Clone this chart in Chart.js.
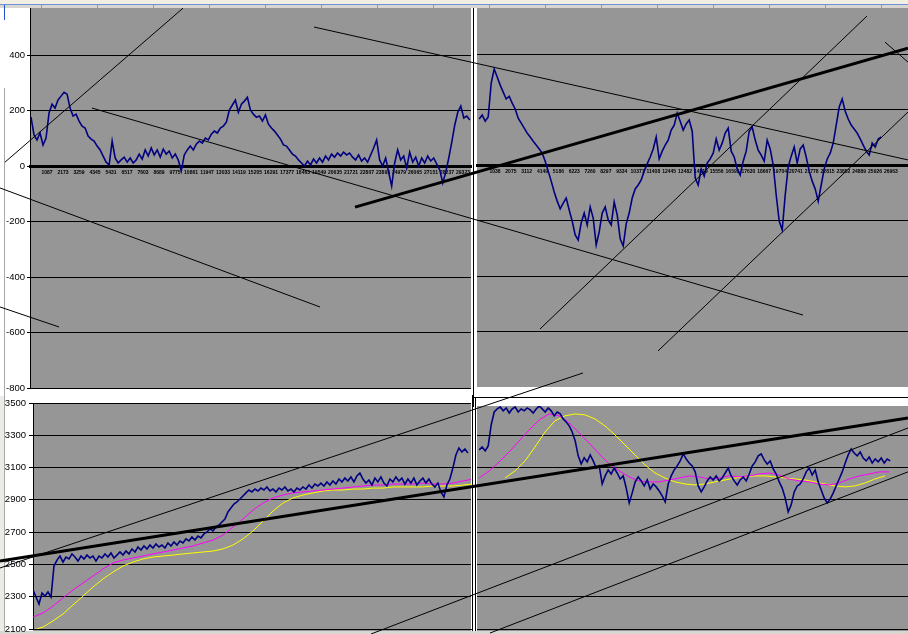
<!DOCTYPE html>
<html><head><meta charset="utf-8">
<script src="https://cdn.jsdelivr.net/npm/chart.js@4.4.1/dist/chart.umd.min.js"></script>
<style>
html,body{margin:0;padding:0;background:#fff;}
#wrap{position:relative;width:908px;height:634px;overflow:hidden;background:#fff;}
canvas{position:absolute;left:0;top:0;}
.f{position:absolute;}
</style></head><body>
<div id="wrap">
 <div class="f" style="left:0;top:0;width:908px;height:4px;background:#f1efe2"></div>
 <div class="f" style="left:0;top:4px;width:908px;height:1px;background:#6f8fd8"></div>
 <div class="f" style="left:0;top:5px;width:908px;height:3px;background:#d8d6d0;background-image:repeating-linear-gradient(to right,transparent 0,transparent 41px,#9a9a9a 41px,#9a9a9a 42px,transparent 42px,transparent 56px)"></div>
 <div class="f" style="left:4px;top:5px;width:1px;height:15px;background:#2050c0"></div>
 <div class="f" style="left:0;top:396px;width:4px;height:238px;background:#ecebe6"></div>
 <div class="f" style="left:4px;top:88px;width:1px;height:546px;background:#a8a8a8"></div>
 <div class="f" style="left:473px;top:8px;width:1px;height:390px;background:#000"></div>
 <div class="f" style="left:472px;top:395px;width:2px;height:12px;background:#000"></div>
 <div class="f" style="left:472px;top:405px;width:1px;height:229px;background:#000"></div>
 <div class="f" style="left:475px;top:397px;width:1px;height:237px;background:#000"></div>
 <div class="f" style="left:474px;top:397px;width:434px;height:1px;background:#000"></div>
 <div class="f" style="left:0;top:631px;width:908px;height:3px;background:#d8d6d0"></div>
 <canvas id="cTR" width="908" height="634"></canvas>
 <canvas id="cBR" width="908" height="634"></canvas>
 <canvas id="cTL" width="908" height="634"></canvas>
 <canvas id="cBL" width="908" height="634"></canvas>
</div>
<script>
// ---------- DATA ----------
// Top-left oscillator (blue), one value every 204 rows from row 0
const TL_VALUES = [176,112,94,119,76,101,191,223,209,238,252,266,259,209,180,187,162,144,137,108,97,90,72,58,36,14,4,90,29,11,22,32,14,29,11,22,43,25,58,36,65,40,58,32,61,43,54,29,43,22,-18,40,58,72,58,79,90,83,101,94,115,126,119,137,144,158,202,220,238,194,223,234,248,202,187,176,180,162,184,151,137,126,112,97,76,72,58,43,36,22,11,0,18,4,25,11,29,14,36,22,43,32,47,36,50,40,47,32,22,40,18,29,14,40,65,94,22,0,29,-22,-72,11,58,22,36,-7,50,14,32,0,29,11,36,18,29,7,-14,-61,-22,29,86,148,194,216,173,180,166];
// Top-right oscillator (blue), one value every 196.5 rows from row 0
const TR_VALUES = [166,180,158,173,295,346,317,288,263,238,248,223,202,169,151,133,115,101,86,72,58,43,14,-22,-58,-97,-130,-158,-137,-119,-162,-202,-252,-270,-209,-173,-216,-151,-191,-288,-241,-173,-151,-198,-216,-133,-180,-266,-292,-212,-173,-119,-86,-72,-54,-22,4,29,58,101,22,50,72,90,126,144,187,158,126,148,162,122,-47,-72,-14,-40,7,22,43,94,54,79,115,133,50,29,-14,-36,14,50,122,137,90,54,36,14,90,58,0,-108,-202,-234,-108,-7,32,65,7,58,72,29,-22,-58,-86,-130,-72,-14,22,43,79,144,209,238,194,166,144,130,115,94,72,50,36,79,65,94,101];
// Bottom-left price (blue), every 204.5 rows
const BL_VALUES = [2342,2298,2255,2323,2304,2329,2298,2490,2527,2552,2515,2546,2534,2565,2546,2521,2552,2534,2558,2540,2552,2521,2552,2540,2565,2546,2571,2540,2558,2577,2558,2583,2565,2596,2577,2608,2589,2614,2596,2620,2602,2627,2608,2620,2602,2633,2614,2639,2620,2645,2633,2658,2645,2670,2651,2676,2664,2689,2701,2720,2707,2732,2744,2763,2781,2825,2850,2874,2887,2905,2924,2943,2961,2949,2967,2955,2973,2961,2980,2955,2967,2949,2973,2961,2980,2955,2967,2949,2973,2961,2980,2967,2992,2973,2998,2986,3004,2986,3011,2992,3017,2998,3029,3011,3035,3017,3042,3011,3048,3066,3029,3004,3023,2992,3035,3011,3042,3004,2986,3029,3011,3042,3017,3035,2998,3029,3004,3035,2992,3017,3035,3004,3029,2998,2980,3004,2949,2918,2992,3029,3097,3178,3221,3196,3215,3190];
// Bottom-left moving averages, every 682 rows
const BL_MA_FAST = [2174,2199,2242,2292,2342,2385,2428,2472,2509,2527,2540,2552,2565,2577,2589,2602,2614,2633,2651,2682,2732,2781,2837,2881,2912,2930,2943,2949,2955,2961,2967,2973,2980,2986,2992,2992,2998,2998,2998,3004,2998,2998,3004,3017,3029];
const BL_MA_SLOW = [2094,2112,2150,2193,2249,2304,2360,2410,2453,2490,2515,2534,2546,2552,2558,2565,2571,2577,2583,2596,2620,2658,2707,2769,2831,2881,2912,2930,2943,2955,2961,2961,2967,2967,2973,2973,2980,2980,2980,2980,2986,2986,2986,2992,2998];
// Bottom-right price (blue), every 196.5 rows
const BR_VALUES = [3209,3227,3203,3234,3364,3444,3463,3475,3451,3469,3438,3463,3475,3444,3463,3451,3469,3457,3438,3463,3481,3463,3444,3469,3451,3420,3444,3432,3401,3382,3358,3320,3265,3172,3122,3160,3135,3178,3141,3097,3110,2998,3048,3085,3060,3097,3066,3029,3048,2973,2881,2943,3011,3042,3017,2986,3023,2967,2998,2980,2955,2924,2887,2998,3048,3085,3110,3141,3184,3153,3128,3110,3073,2986,2949,2980,3017,3042,3023,3048,3017,3035,3066,3097,3048,3017,2992,3023,3042,3017,3060,3110,3135,3172,3184,3147,3122,3141,3091,3060,3011,2973,2911,2825,2869,2949,2986,2998,3029,3073,3097,3054,3085,3011,2961,2911,2881,2905,2943,2986,3029,3073,3128,3178,3215,3190,3172,3196,3159,3141,3165,3128,3153,3135,3159,3128,3153,3141];
// Bottom-right moving averages, every 655 rows (slow one starts at row 1690)
const BR_MA_FAST = [3035,3079,3135,3197,3265,3333,3395,3432,3420,3376,3314,3252,3184,3122,3079,3042,3017,3011,3011,3023,3035,3048,3042,3029,3035,3048,3042,3048,3060,3066,3054,3029,3017,3011,2998,2992,3004,3029,3048,3060,3073,3073];
const BR_MA_SLOW = [3035,3079,3141,3227,3320,3389,3420,3432,3426,3401,3358,3302,3240,3178,3116,3066,3035,3011,2998,2992,2998,3011,3023,3035,3042,3048,3048,3042,3035,3029,3023,3011,2998,2986,2980,2986,3004,3029,3048];
// Category tick labels (row numbers)
const TL_CAT_TICKS = [1087,2173,3259,4345,5431,6517,7603,8689,9775,10861,11947,13033,14119,15205,16291,17377,18463,19549,20635,21721,22807,23893,24979,26065,27151,28237,29323];
const TR_CAT_TICKS = [1038,2075,3112,4149,5186,6223,7260,8297,9334,10371,11408,12445,13482,14519,15556,16593,17630,18667,19704,20741,21778,22815,23852,24889,25926,26963];
// Value axis ticks
const TL_Y_TICKS = [-800,-600,-400,-200,0,200,400];
const TR_Y_TICKS = [-600,-400,-200,0,200,400];
const BL_Y_TICKS = [2100,2300,2500,2700,2900,3100,3300,3500];
const BR_Y_TICKS = [2100,2300,2500,2700,2900,3100,3300];
// Hand-drawn trend lines, in each panel's data units: [row1, value1, row2, value2]
const TL_TRENDS_THIN = [[-1765,14,10317,569],[4140,209,52400,-537],[-2104,-79,19616,-508],[-2104,-508,1901,-580],[19209,501,59526,22]];
const TL_TRENDS_THICK = [[21992,-148,59526,425]];
const TR_TRENDS_THIN = [[3982,-591,25401,537],[11711,-670,28086,191],[26580,443,28086,371]];
const BL_TRENDS_THIN = [[-2250,2478,37499,3686],[23045,2069,59658,3345]];
const BL_TRENDS_THICK = [[-2250,2521,59658,3407]];
const BR_TRENDS_THIN = [[707,2075,28086,3073]];

// ---------- RENDERING ----------
const W = 908, H = 634;
Chart.defaults.font.family = "'Liberation Sans', Arial, sans-serif";

const bgPlugin = {
  id: 'plotBg',
  beforeDraw(chart, args, opts) {
    const a = chart.chartArea, c = chart.ctx;
    c.save();
    c.fillStyle = '#969696';
    c.fillRect(a.left, a.top, a.right - a.left, a.bottom - a.top + (opts.extra || 0));
    c.restore();
  }
};

function series(vals, start, step) { return vals.map((v, i) => ({x: start + i * step, y: v})); }
function lineDs(points, color, width, order) {
  return {data: points, borderColor: color, borderWidth: width, pointRadius: 0, tension: 0, fill: false, order: order};
}
function trendDs(s, width) {
  return {data: [{x: s[0], y: s[1]}, {x: s[2], y: s[3]}], borderColor: '#000', borderWidth: width,
          pointRadius: 0, tension: 0, fill: false, clip: false, order: 0};
}

function midXAxis(min, max, ticks) {
  return {
    type: 'linear', position: {y: 0}, min: min, max: max,
    grid: {display: false, drawTicks: false},
    border: {display: true, color: '#000', width: 3},
    ticks: {autoSkip: false, maxRotation: 0, minRotation: 0, padding: 4, color: '#000',
            font: {size: 5, weight: 'bold'}, callback: v => String(v)},
    afterBuildTicks: s => { s.ticks = ticks.map(v => ({value: v})); },
    afterFit: s => { s.paddingLeft = 0; s.paddingRight = 0; s.height = 0; }
  };
}
function bottomXAxis(min, max) {
  return {
    type: 'linear', position: 'bottom', min: min, max: max,
    grid: {display: false, drawTicks: false},
    border: {display: true, color: '#000', width: 1},
    ticks: {display: false},
    afterFit: s => { s.paddingLeft = 0; s.paddingRight = 0; s.height = 0; }
  };
}
function yAxis(min, max, ticks, showLabels, width, tickLen, pad) {
  return {
    type: 'linear', position: 'left', min: min, max: max,
    grid: {color: '#000', lineWidth: 1, drawTicks: showLabels, tickLength: tickLen},
    border: {display: showLabels, color: '#000', width: 1},
    ticks: {display: showLabels, padding: pad, color: '#000', font: {size: 9.5}, callback: v => String(v)},
    afterBuildTicks: s => { s.ticks = ticks.map(v => ({value: v})); },
    afterFit: s => { s.width = width; s.paddingTop = 0; s.paddingBottom = 0; }
  };
}
function panel(id, area, xCfg, yCfg, datasets, extra) {
  return new Chart(document.getElementById(id), {
    type: 'line',
    data: {datasets: datasets},
    options: {
      responsive: false, animation: false, events: [],
      layout: {padding: {left: area.left - area.yW, top: area.top, right: W - area.right, bottom: H - area.bottom}},
      plugins: {legend: {display: false}, tooltip: {enabled: false}, plotBg: {extra: extra || 0}},
      scales: {x: xCfg, y: yCfg}
    },
    plugins: [bgPlugin]
  });
}

const NAVY = '#000080', MAG = '#ff00ff', YEL = '#ffff00';

// Top-right
panel('cTR', {left: 477, top: 8, right: 908, bottom: 387, yW: 0},
  midXAxis(-144, 28086, TR_CAT_TICKS),
  yAxis(-800, 569.6 - 3.6, TR_Y_TICKS, false, 0, 0, 0),
  [].concat(TR_TRENDS_THIN.map(s => trendDs(s, 1)),
            [lineDs(series(TR_VALUES, 0, 196.5), NAVY, 1.6, 5)]));

// Bottom-right
panel('cBR', {left: 477, top: 406, right: 908, bottom: 629, yW: 0},
  bottomXAxis(-144, 28086),
  yAxis(2100, 3481, BR_Y_TICKS, false, 0, 0, 0),
  [].concat(BR_TRENDS_THIN.map(s => trendDs(s, 1)),
            [lineDs(series(BR_VALUES, 0, 196.5), NAVY, 1.6, 3),
             lineDs(series(BR_MA_FAST, 0, 655), MAG, 1, 4),
             lineDs(series(BR_MA_SLOW, 1690, 655), YEL, 1, 5)]), 2);

// Top-left
panel('cTL', {left: 30, top: 8, right: 471, bottom: 388, yW: 30},
  midXAxis(-68, 29865, TL_CAT_TICKS),
  yAxis(-800, 569.6, TL_Y_TICKS, true, 30, 3, 2),
  [].concat(TL_TRENDS_THICK.map(s => trendDs(s, 3)),
            TL_TRENDS_THIN.map(s => trendDs(s, 1)),
            [lineDs(series(TL_VALUES, 0, 204), NAVY, 1.6, 5)]));

// Bottom-left
panel('cBL', {left: 33, top: 403, right: 471, bottom: 629, yW: 33},
  bottomXAxis(0, 29865),
  yAxis(2100, 3500, BL_Y_TICKS, true, 33, 4, 3),
  [].concat(BL_TRENDS_THICK.map(s => trendDs(s, 3)),
            BL_TRENDS_THIN.map(s => trendDs(s, 1)),
            [lineDs(series(BL_VALUES, 0, 204.5), NAVY, 1.6, 3),
             lineDs(series(BL_MA_FAST, 0, 682), MAG, 1, 4),
             lineDs(series(BL_MA_SLOW, 0, 682), YEL, 1, 5)]), 2);
</script>
</body></html>
